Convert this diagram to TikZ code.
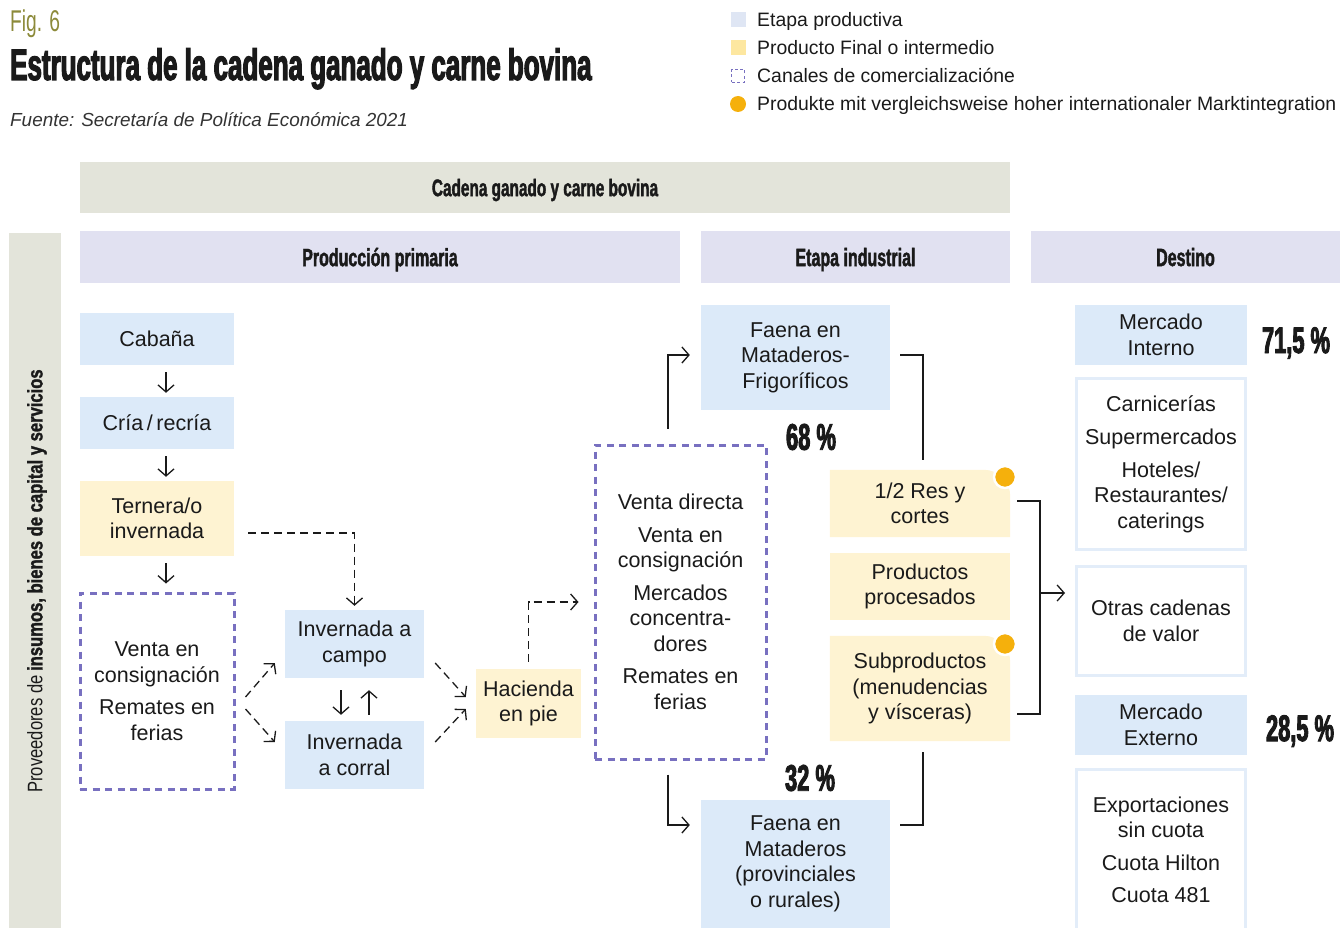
\documentclass[tikz,border=0pt]{standalone}
\usepackage{fontspec}
\setmainfont{Liberation Sans}
\newfontfamily\condfont{Liberation Sans}[FakeStretch=0.64]
\newfontfamily\boldcond{Liberation Sans}[FakeStretch=0.64,FakeBold=1.6]
\newfontfamily\sidefont{Liberation Sans}[FakeStretch=0.79]
\newfontfamily\sidebold{Liberation Sans}[FakeStretch=0.79,FakeBold=1.4]
\newfontfamily\heavyfont{Liberation Sans}[FakeStretch=0.59,FakeBold=2.5]
\usetikzlibrary{arrows.meta,backgrounds}

\definecolor{ink}{HTML}{1A1A1A}
\definecolor{source}{HTML}{333333}
\definecolor{figolive}{HTML}{8C8A3A}
\definecolor{stageblue}{HTML}{DCEAF9}
\definecolor{prodyellow}{HTML}{FEF3D2}
\definecolor{headlav}{HTML}{E1E1F1}
\definecolor{bandgray}{HTML}{E3E4DA}
\definecolor{chanpurple}{HTML}{7870C0}
\definecolor{dotorange}{HTML}{F5B00C}
\definecolor{outline}{HTML}{E3EDF9}
\definecolor{legblue}{HTML}{DFE6F4}
\definecolor{legyellow}{HTML}{FDE7A0}

\newcommand\bodyfont{\fontsize{21.5}{25.5}\selectfont}
\newcommand\legfont{\fontsize{19.4}{23}\selectfont}
\newcommand\headfont{\boldcond\bfseries\fontsize{25}{30}\selectfont}
\newcommand\sharefont{\heavyfont\bfseries\fontsize{37}{40}\selectfont}

\tikzset{
  stage/.style={fill=stageblue,align=center,inner sep=0pt,font=\bodyfont},
  product/.style={align=center,inner sep=0pt,font=\bodyfont},
  channel/.style={draw=chanpurple,line width=3pt,dash pattern=on 7pt off 5.5pt,align=center,inner sep=0pt,font=\bodyfont},
  outlet/.style={draw=outline,line width=3pt,align=center,inner sep=0pt,font=\bodyfont},
  header/.style={fill=headlav,inner sep=0pt,font=\headfont},
  share/.style={inner sep=0pt,font=\sharefont},
  marker/.style={circle,fill=dotorange,draw=white,line width=2.5pt,minimum size=22pt,inner sep=0pt},
  flow/.style={draw=ink,line width=1.3pt,-{Straight Barb[length=7pt,width=16pt]}},
  dflow/.style={flow,dash pattern=on 8pt off 5pt},
  link/.style={draw=ink,line width=1.3pt},
}

\begin{document}
\begin{tikzpicture}[x=1pt,y=-1pt,text=ink]
\useasboundingbox (0,0) rectangle (1340,928);

  \node[anchor=base west,inner sep=0pt,text=figolive,font=\condfont\fontsize{30}{32}\selectfont] (fig) at (10,32) {Fig. 6};
  \node[anchor=base west,inner sep=0pt,font=\heavyfont\bfseries\fontsize{44}{48}\selectfont] (title) at (10,80) {Estructura de la cadena ganado y carne bovina};
  \node[anchor=base west,inner sep=0pt,text=source,font=\itshape\fontsize{18.9}{22}\selectfont] (src) at (10,127) {Fuente: Secretaría de Política Económica 2021};

  \begin{scope}[every node/.style={inner sep=0pt}]
    \node[fill=legblue,minimum size=15pt] (k1) at (738,20) {};
    \node[fill=legyellow,minimum size=15pt] (k2) at (738,48) {};
    \node[draw=chanpurple,line width=1.6pt,dash pattern=on 3pt off 2.5pt,minimum size=13pt] (k3) at (738,76) {};
    \node[circle,fill=dotorange,minimum size=16pt] (k4) at (738,104) {};
  \end{scope}

  \begin{scope}[every node/.style={anchor=base west,inner sep=0pt,font=\legfont}]
    \node (l1) at (757,27) {Etapa productiva};
    \node (l2) at (757,55) {Producto Final o intermedio};
    \node (l3) at (757,83) {Canales de comercializacióne};
    \node (l4) at (757,111) {Produkte mit vergleichsweise hoher internationaler Marktintegration};
  \end{scope}

  \node[fill=bandgray,inner sep=0pt,minimum width=930pt,minimum height=51pt] (band) at (545,187.5) {};
  \node[inner sep=0pt,font=\boldcond\bfseries\fontsize{24}{28}\selectfont] (bandtext) at (545,190) {Cadena ganado y carne bovina};
  \node[fill=bandgray,inner sep=0pt,minimum width=52pt,minimum height=695pt] (side) at (35,580.5) {};
  \node[rotate=90,inner sep=0pt,font=\sidefont\fontsize{21}{24}\selectfont] (sidetext) at (37,581) {Proveedores de {\sidebold\bfseries insumos, bienes de capital y servicios}};

  \begin{scope}[every node/.style={header,minimum height=52pt,text depth=-3pt}]
    \node[minimum width=600pt] (hprod) at (380,257) {Producción primaria};
    \node[minimum width=309pt] (hind) at (855.5,257) {Etapa industrial};
    \node[minimum width=309pt] (hdest) at (1185.5,257) {Destino};
  \end{scope}

  \begin{scope}[every node/.style={stage}]
    \node[minimum width=154pt,minimum height=52pt] (cab) at (157,339) {Cabaña};
    \node[minimum width=154pt,minimum height=52pt] (cria) at (157,423) {Cría\,/\,recría};
    \node[minimum width=139pt,minimum height=68pt] (camp) at (354.5,644) {Invernada a\\campo};
    \node[minimum width=139pt,minimum height=68pt] (corr) at (354.5,755) {Invernada\\a corral};
    \node[minimum width=189pt,minimum height=105pt] (fma) at (795.5,357.5) {Faena en\\Mataderos-\\Frigoríficos};
    \node[minimum width=189pt,minimum height=128pt] (fmb) at (795.5,864) {Faena en\\Mataderos\\(provinciales\\o rurales)};
    \node[minimum width=172pt,minimum height=60pt] (mint) at (1161,335) {Mercado\\Interno};
    \node[minimum width=172pt,minimum height=60pt] (mext) at (1161,725) {Mercado\\Externo};
  \end{scope}

  \begin{scope}[every node/.style={product}]
    \node[fill=prodyellow,minimum width=154pt,minimum height=75pt] (tern) at (157,518.5) {Ternera/o\\invernada};
    \node[fill=prodyellow,minimum width=105pt,minimum height=69pt] (haci) at (528.5,703.5) {Hacienda\\en pie};
    \node[minimum width=180pt,minimum height=67pt] (res) at (920,503.5) {1/2 Res y\\cortes};
    \node[fill=prodyellow,minimum width=180pt,minimum height=67pt] (proc) at (920,586.5) {Productos\\procesados};
    \node[minimum width=180pt,minimum height=105pt] (subp) at (920,688.5) {Subproductos\\(menudencias\\y vísceras)};
  \end{scope}

  \begin{scope}[on background layer]
    \foreach \n in {res,subp}
      \fill[prodyellow] (\n.south west) -- (\n.north west) -- ([xshift=-26pt]\n.north east)
        .. controls ([xshift=-12pt]\n.north east) and ([yshift=-12pt]\n.north east) .. ([yshift=-26pt]\n.north east)
        -- (\n.south east) -- cycle;
  \end{scope}

  \node[marker] (dres) at (1005,477) {};
  \node[marker] (dsubp) at (1005,644) {};

  \begin{scope}[every node/.style={channel}]
    \node[minimum width=154pt,minimum height=196pt] (vent) at (157,691) {Venta en\\consignación\\[7pt]Remates en\\ferias};
    \node[minimum width=171pt,minimum height=314pt] (canal) at (680.5,602) {Venta directa\\[7pt]Venta en\\consignación\\[7pt]Mercados\\concentra-\\dores\\[7pt]Remates en\\ferias};
  \end{scope}

  \begin{scope}[every node/.style={outlet,minimum width=169pt}]
    \node[minimum height=171pt] (ilist) at (1161,464) {Carnicerías\\[8pt]Supermercados\\[7pt]Hoteles/\\Restaurantes/\\caterings};
    \node[minimum height=109pt] (otras) at (1161,621) {Otras cadenas\\de valor};
    \node[minimum height=161pt] (elist) at (1161,850) {Exportaciones\\sin cuota\\[7pt]Cuota Hilton\\[7pt]Cuota 481};
  \end{scope}

  \begin{scope}[every node/.style={share}]
    \node (p68) at (811,437) {68\,\%};
    \node (p32) at (810,778) {32\,\%};
    \node (p715) at (1296,343) {71,5 \%};
    \node (p285) at (1300,731) {28,5 \%};
  \end{scope}

  \coordinate (brk) at (1040,593);

  \path[flow] ([xshift=9pt,yshift=-7pt]cab.south) -- ([xshift=9pt,yshift=4pt]cria.north);
  \path[flow] ([xshift=9pt,yshift=-7pt]cria.south) -- ([xshift=9pt,yshift=4pt]tern.north);
  \path[flow] ([xshift=9pt,yshift=-7pt]tern.south) -- ([xshift=9pt,yshift=8pt]vent.north);
  \path[flow] ([xshift=-13.5pt,yshift=-12pt]camp.south) -- ([xshift=-13.5pt,yshift=6pt]corr.north);
  \path[flow] ([xshift=14.5pt,yshift=6pt]corr.north) -- ([xshift=14.5pt,yshift=-12pt]camp.south);

  \path[dflow] ([xshift=14pt,yshift=-14.5pt]tern.east) -| ([yshift=4pt]camp.north);
  \path[dflow] ([xshift=10pt,yshift=-6pt]vent.east) -- ([xshift=-10pt,yshift=-19pt]camp.west);
  \path[dflow] ([xshift=10pt,yshift=-18pt]vent.east) -- ([xshift=-10pt,yshift=13pt]corr.west);
  \path[dflow] ([xshift=11pt,yshift=-19pt]camp.east) -- ([xshift=-10pt,yshift=6.5pt]haci.west);
  \path[dflow] ([xshift=11pt,yshift=13pt]corr.east) -- ([xshift=-10pt,yshift=-5.5pt]haci.west);
  \path[dflow] ([yshift=7pt]haci.north) |- ([xshift=-15pt]canal.west);

  \path[flow] ([xshift=-12.5pt,yshift=15pt]canal.north) |- ([xshift=-11pt,yshift=2.5pt]fma.west);
  \path[flow] ([xshift=-12.5pt,yshift=-14pt]canal.south) |- ([xshift=-11pt,yshift=39pt]fmb.west);

  \path[link] ([xshift=10pt,yshift=2.5pt]fma.east) -| ([xshift=3pt,yshift=10pt]res.north);
  \path[link] ([xshift=10pt,yshift=39pt]fmb.east) -| ([xshift=3pt,yshift=-11pt]subp.south);
  \path[link] ([xshift=7pt,yshift=2.5pt]res.east) -| (brk) |- ([xshift=7pt,yshift=-25.5pt]subp.east);
  \path[flow] (brk) -- ([xshift=-10pt,yshift=28pt]otras.west);

\end{tikzpicture}
\end{document}
